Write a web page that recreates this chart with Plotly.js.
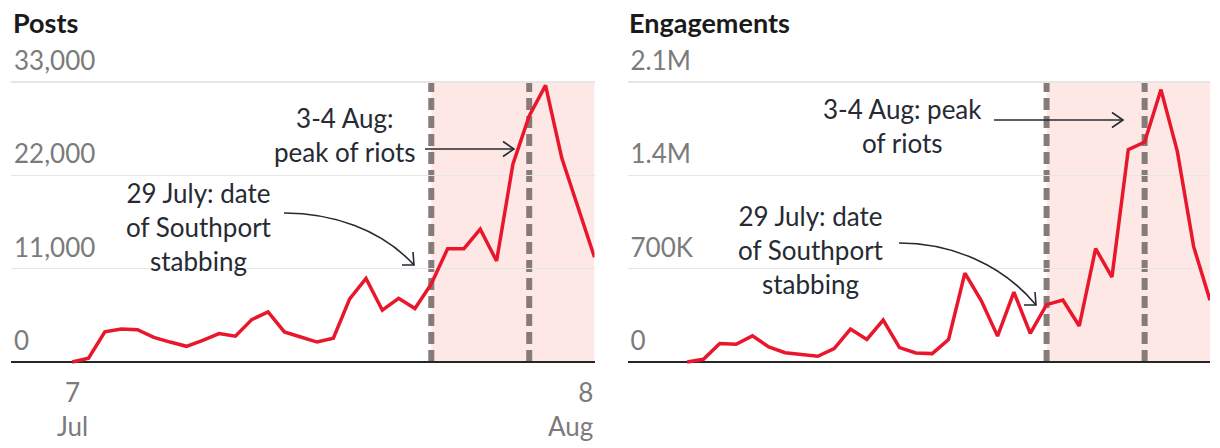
<!DOCTYPE html>
<html>
<head>
<meta charset="utf-8">
<script src="https://cdn.plot.ly/plotly-3.0.1.min.js"></script>
<style>html,body{margin:0;padding:0;background:#fff;}#chart{width:1220px;height:448px;}</style>
</head>
<body>
<div id="chart"></div>
<script>
// ---- data ----
const dates = ["2024-07-07","2024-07-08","2024-07-09","2024-07-10","2024-07-11","2024-07-12","2024-07-13","2024-07-14","2024-07-15","2024-07-16","2024-07-17","2024-07-18","2024-07-19","2024-07-20","2024-07-21","2024-07-22","2024-07-23","2024-07-24","2024-07-25","2024-07-26","2024-07-27","2024-07-28","2024-07-29","2024-07-30","2024-07-31","2024-08-01","2024-08-02","2024-08-03","2024-08-04","2024-08-05","2024-08-06","2024-08-07","2024-08-08"];
const posts = [0, 450, 3550, 3900, 3800, 2900, 2350, 1850, 2550, 3350, 3050, 5000, 5900, 3550, 2950, 2350, 2800, 7450, 9850, 6100, 7500, 6300, 9200, 13350, 13350, 15650, 11900, 23300, 29000, 32600, 24000, 18250, 12350];
const engagements = [0, 20000, 138000, 133000, 196000, 113000, 70000, 58000, 43000, 101000, 247000, 169000, 315000, 108000, 68000, 63000, 169000, 667000, 461000, 194000, 524000, 214000, 430000, 465000, 270000, 850000, 637000, 1593000, 1650000, 2043000, 1580000, 865000, 463000];
const postTicks = [0, 11000, 22000, 33000];
const postTickText = ["0", "11,000", "22,000", "33,000"];
const engTicks = [0, 700000, 1400000, 2100000];
const engTickText = ["0", "700K", "1.4M", "2.1M"];
const xTicks = ["2024-07-07", "2024-08-08"];
const xTickText = ["7<br>Jul", "8<br>Aug"];
const stabbingDate = "2024-07-29", peakDate = "2024-08-04", endDate = "2024-08-08";
const postsMax = 33000, engMax = 2100000;
const titles = ["Posts", "Engagements"];
const noteStab = "29 July: date<br>of Southport<br>stabbing";
const notePeakL = "3-4 Aug:<br>peak of riots";
const notePeakR = "3-4 Aug: peak<br>of riots";

// ---- style ----
const W = 1220, H = 448;
const RED = "#e9172b", INK = "#262a33", GREY = "#7b7b7b", PINK = "#fde8e5", DASH = "#857b78";
const FONT = "Lato, 'Open Sans', sans-serif";
function pp(x, y) { return (x / W).toFixed(5) + "," + (1 - y / H).toFixed(5); }
// plot area from pixel row 40 to 370; zero at row 362, top value at row 82
const PT = 40, PB = 370, ZERO = 362, TOPV = 82;
const yDom = [(H - PB) / H, (H - PT) / H];
function yRange(maxv) {
  const per = maxv / (ZERO - TOPV);
  return [-(PB - ZERO) * per, maxv + (TOPV - PT) * per];
}

function yAxis(ticks, text, maxv) {
  return {
    domain: yDom, range: yRange(maxv), tickvals: ticks, ticktext: text,
    ticklabelposition: "inside top", showgrid: true, gridcolor: "#e6e6e6", gridwidth: 1.5,
    zeroline: true, zerolinecolor: "#262626", zerolinewidth: 2.5,
    showline: false, ticks: "", fixedrange: true,
    tickfont: {family: FONT, size: 26, color: GREY}, ticklabelshift: -3
  };
}
function xAxis(dom, start, extra) {
  return Object.assign({
    type: "date", domain: dom, range: [start, endDate], showgrid: false, zeroline: false,
    showline: false, ticks: "", showticklabels: false, fixedrange: true
  }, extra);
}

const traces = [
  {x: dates, y: posts, xaxis: "x", yaxis: "y", type: "scatter", mode: "lines",
   line: {color: RED, width: 3.5}, hoverinfo: "skip"},
  {x: dates, y: engagements, xaxis: "x2", yaxis: "y2", type: "scatter", mode: "lines",
   line: {color: RED, width: 3.5}, hoverinfo: "skip"}
];

const xL = [11 / W, 594.5 / W], xR = [627.5 / W, 1210 / W];

function bandShapes(xa, ya, maxv) {
  return [
    {type: "rect", xref: xa, yref: ya, x0: stabbingDate, x1: endDate, y0: 0, y1: maxv,
     fillcolor: PINK, line: {width: 0}, layer: "below"},
    {type: "line", xref: xa, yref: ya, x0: stabbingDate, x1: stabbingDate, y0: 0, y1: maxv,
     line: {color: DASH, width: 6, dash: "12px,6px"}, layer: "below"},
    {type: "line", xref: xa, yref: ya, x0: peakDate, x1: peakDate, y0: 0, y1: maxv,
     line: {color: DASH, width: 6, dash: "12px,6px"}, layer: "below"}
  ];
}
function arrowPath(d) {
  return {type: "path", xref: "paper", yref: "paper", path: d, line: {color: INK, width: 1.6}};
}

const shapes = [].concat(
  bandShapes("x", "y", postsMax),
  bandShapes("x2", "y2", engMax),
  [
    arrowPath("M" + pp(425, 149) + " L" + pp(514, 149)),
    arrowPath("M" + pp(503, 141.5) + " L" + pp(514, 149) + " L" + pp(503, 156.5)),
    arrowPath("M" + pp(284, 213) + " C" + pp(332, 213) + " " + pp(381, 229) + " " + pp(414, 265)),
    arrowPath("M" + pp(402, 265) + " L" + pp(414, 265) + " L" + pp(413, 252)),
    arrowPath("M" + pp(994, 120) + " L" + pp(1123, 120)),
    arrowPath("M" + pp(1112, 112.5) + " L" + pp(1123, 120) + " L" + pp(1112, 127.5)),
    arrowPath("M" + pp(899, 243) + " C" + pp(952, 243) + " " + pp(1003, 265) + " " + pp(1036, 305)),
    arrowPath("M" + pp(1024, 305) + " L" + pp(1036, 305) + " L" + pp(1035, 292))
  ]
);

function note(text, x, y) {
  return {text: text, xref: "paper", yref: "paper", x: x / W, y: 1 - y / H,
    xanchor: "center", yanchor: "middle", showarrow: false, align: "center",
    font: {family: FONT, size: 26, color: INK}};
}
function title(text, x) {
  return {text: "<b>" + text + "</b>", xref: "paper", yref: "paper", x: x / W, y: 1 - 22 / H,
    xanchor: "left", yanchor: "middle", showarrow: false,
    font: {family: FONT, size: 27, color: "#1a1a1a", weight: 900}};
}
function xLabel(i, anchor) {
  return {text: xTickText[i], xref: "x", yref: "paper", x: xTicks[i], y: 1 - 374 / H,
    xanchor: anchor, yanchor: "top", align: anchor === "right" ? "right" : "center",
    showarrow: false, font: {family: FONT, size: 26, color: GREY}};
}

const layout = {
  width: W, height: H, margin: {l: 0, r: 0, t: 0, b: 0},
  paper_bgcolor: "#fff", plot_bgcolor: "rgba(0,0,0,0)", showlegend: false,
  xaxis: xAxis(xL, "2024-07-03 06:00", {anchor: "y"}),
  xaxis2: xAxis(xR, "2024-07-03 08:30", {anchor: "y2"}),
  yaxis: Object.assign(yAxis(postTicks, postTickText, postsMax), {anchor: "x"}),
  yaxis2: Object.assign(yAxis(engTicks, engTickText, engMax), {anchor: "x2"}),
  shapes: shapes,
  annotations: [
    title(titles[0], 11), title(titles[1], 627),
    note(notePeakL, 345, 135), note(noteStab, 199, 227),
    note(notePeakR, 902, 126), note(noteStab, 811, 250),
    xLabel(0, "center"), xLabel(1, "right")
  ]
};

Plotly.newPlot("chart", traces, layout, {displayModeBar: false, staticPlot: true});
</script>
</body>
</html>
